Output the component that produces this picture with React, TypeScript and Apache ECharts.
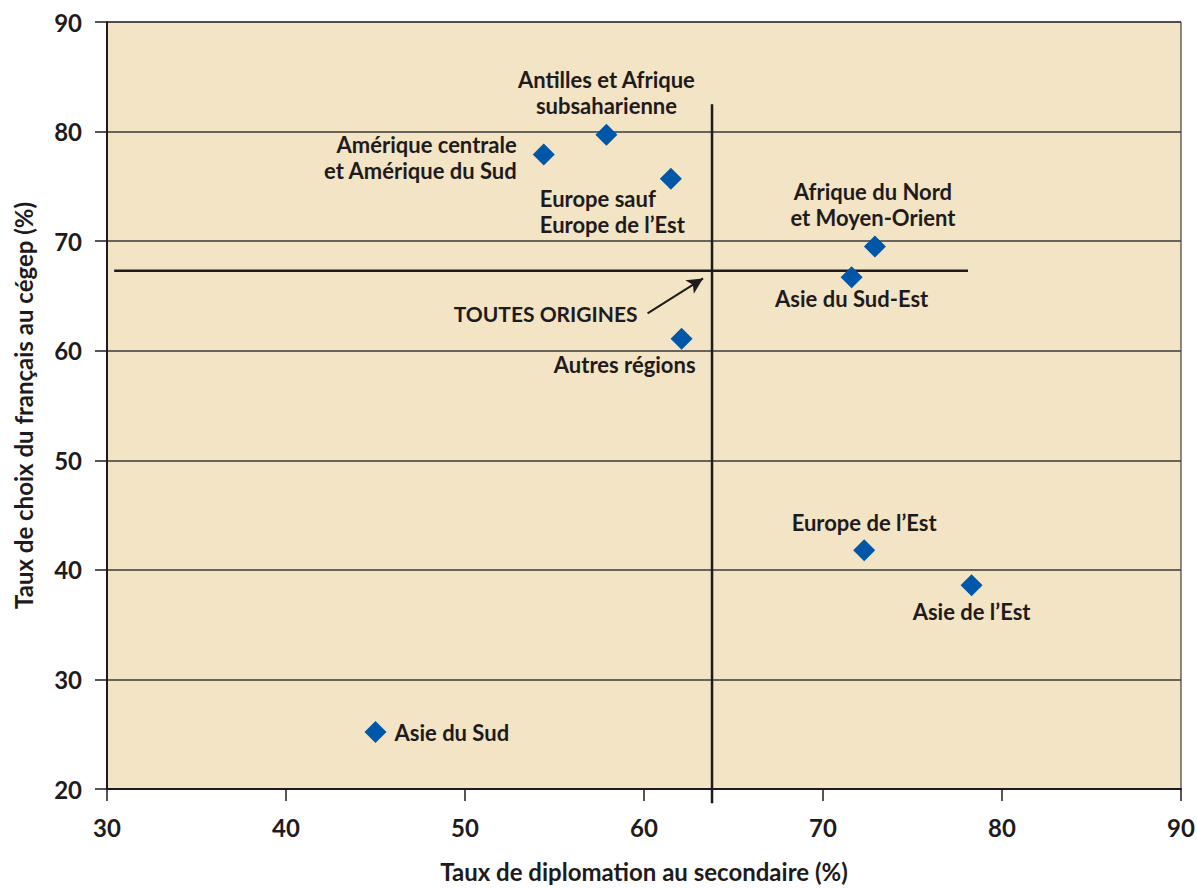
import React, { useEffect, useRef } from "react";
import * as echarts from "echarts";

// ---- Data ----
const regions = [
  "Asie du Sud",
  "Amérique centrale\net Amérique du Sud",
  "Antilles et Afrique\nsubsaharienne",
  "Europe sauf\nEurope de l’Est",
  "Autres régions",
  "Afrique du Nord\net Moyen-Orient",
  "Asie du Sud-Est",
  "Europe de l’Est",
  "Asie de l’Est",
];
const tauxDiplomation = [45.0, 54.4, 57.9, 61.5, 62.1, 72.9, 71.6, 72.3, 78.3];
const tauxChoixFrancais = [25.2, 77.9, 79.7, 75.7, 61.1, 69.5, 66.7, 41.8, 38.6];

const toutesOriginesLabel = "TOUTES ORIGINES";
const toutesOriginesDiplomation = 63.8;
const toutesOriginesChoix = 67.3;
const verticalRefExtent = [82.5, 18.7];
const horizontalRefExtent = [30.4, 78.1];
const arrowTail = [60.2, 63.4];
const arrowHead = [63.3, 66.6];

const xMin = 30, xMax = 90, xStep = 10;
const yMin = 20, yMax = 90, yStep = 10;

const xTitle = "Taux de diplomation au secondaire (%)";
const yTitle = "Taux de choix du français au cégep (%)";

// ---- Styles ----
const FONT = "Lato";
const INK = "#1f1b1c";
const BLUE = "#0057a8";
const BG = "#f2e4c4";

const labelStyles: any[] = [
  { position: "right", distance: 8, align: "left" },
  { position: "left", distance: 16, align: "right", offset: [0, 3] },
  { position: "top", distance: 6, align: "center", offset: [0, 1] },
  { position: "bottom", distance: 0, align: "left", offset: [-131, -4] },
  { position: "bottom", distance: 1, align: "right", offset: [14, 1] },
  { position: "top", distance: 5, align: "center", offset: [-2, 0] },
  { position: "bottom", distance: 0, align: "center", offset: [0, -3] },
  { position: "top", distance: 2, align: "center", offset: [0, -2] },
  { position: "bottom", distance: 1, align: "center", offset: [0, 1] },
];

export default function App() {
  const ref = useRef<HTMLDivElement>(null);

  useEffect(() => {
    document.body.style.margin = "0";
    const chart = echarts.init(ref.current!, null, { renderer: "svg" });

    const points = regions.map((name, i) => ({
      name,
      value: [tauxDiplomation[i], tauxChoixFrancais[i]],
      label: {
        show: true,
        formatter: "{b}",
        ...labelStyles[i],
      },
    }));

    const option: any = {
      animation: false,
      backgroundColor: "#ffffff",
      textStyle: { fontFamily: FONT, color: INK },
      grid: {
        left: 107,
        right: 16,
        top: 22,
        bottom: 99,
        containLabel: false,
        outerBoundsMode: "none",
        show: true,
        backgroundColor: BG,
        borderColor: INK,
        borderWidth: 1,
      },
      xAxis: {
        type: "value",
        min: xMin,
        max: xMax,
        interval: xStep,
        name: xTitle,
        nameLocation: "middle",
        nameGap: 70,
        nameTextStyle: { fontFamily: FONT, fontWeight: "bold", fontSize: 24, color: INK },
        axisLine: { show: true, lineStyle: { color: INK, width: 2 } },
        axisTick: { show: true, length: 12, lineStyle: { color: INK, width: 1.5 } },
        axisLabel: { margin: 26, fontFamily: FONT, fontWeight: "bold", fontSize: 24, color: INK },
        splitLine: { show: false },
      },
      yAxis: {
        type: "value",
        min: yMin,
        max: yMax,
        interval: yStep,
        name: yTitle,
        nameLocation: "middle",
        nameRotate: 90,
        nameGap: 72,
        nameTextStyle: { fontFamily: FONT, fontWeight: "bold", fontSize: 24, color: INK },
        axisLine: { show: true, lineStyle: { color: INK, width: 2 } },
        axisTick: { show: true, length: 12, lineStyle: { color: INK, width: 1.5 } },
        axisLabel: { margin: 25, fontFamily: FONT, fontWeight: "bold", fontSize: 24, color: INK },
        splitLine: { show: true, lineStyle: { color: "#3a3a3a", width: 1.5 } },
      },
      series: [
        {
          name: "Vertical",
          type: "line",
          clip: false,
          symbol: "none",
          silent: true,
          lineStyle: { color: INK, width: 2.5 },
          data: verticalRefExtent.map((y) => [toutesOriginesDiplomation, y]),
          z: 3,
        },
        {
          name: "Horizontal",
          type: "line",
          clip: false,
          symbol: "none",
          silent: true,
          lineStyle: { color: INK, width: 2.5 },
          data: horizontalRefExtent.map((x) => [x, toutesOriginesChoix]),
          z: 3,
          markLine: {
            silent: true,
            symbol: ["none", "arrow"],
            symbolSize: [12, 16],
            lineStyle: { color: INK, width: 2, type: "solid" },
            label: { show: false },
            data: [[{ coord: arrowTail }, { coord: arrowHead }]],
          },
        },
        {
          name: "Toutes origines",
          type: "scatter",
          symbolSize: 0,
          silent: true,
          itemStyle: { opacity: 1 },
          data: [{ name: toutesOriginesLabel, value: arrowTail }],
          label: {
            show: true,
            formatter: "{b}",
            position: "left",
            distance: 10,
            fontFamily: FONT,
            fontWeight: "bold",
            fontSize: 21,
            color: INK,
          },
        },
        {
          name: "Régions",
          type: "scatter",
          symbol: "diamond",
          symbolSize: 22,
          itemStyle: { color: BLUE, opacity: 1 },
          z: 5,
          label: {
            fontFamily: FONT,
            fontWeight: "bold",
            fontSize: 22,
            lineHeight: 26,
            color: INK,
          },
          data: points,
        },
      ],
    };

    chart.setOption(option);
    return () => chart.dispose();
  }, []);

  return <div ref={ref} style={{ width: 1197, height: 888 }} />;
}
